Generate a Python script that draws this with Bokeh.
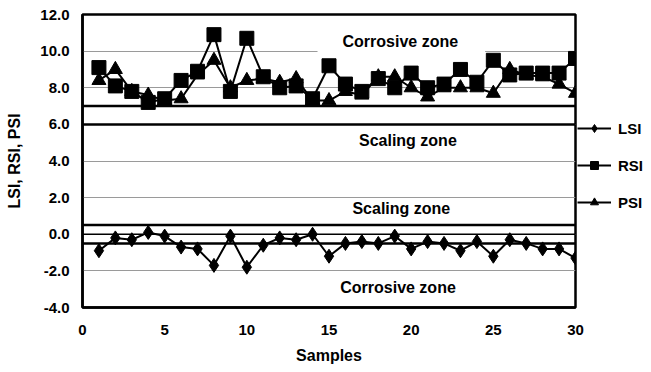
from bokeh.plotting import figure
from bokeh.models import (Range1d, FixedTicker, Span, Label,
                          Legend, LegendItem, CustomJSTickFormatter)
from bokeh.embed import file_html
from bokeh.resources import INLINE

samples = list(range(1, 31))
LSI = [-0.9, -0.2, -0.3, 0.1, -0.1, -0.7, -0.8, -1.7, -0.1, -1.8,
       -0.6, -0.2, -0.3, 0.0, -1.2, -0.5, -0.4, -0.5, -0.1, -0.8,
       -0.4, -0.5, -0.9, -0.4, -1.2, -0.3, -0.5, -0.8, -0.8, -1.3]
RSI = [9.1, 8.1, 7.8, 7.2, 7.4, 8.4, 8.9, 10.9, 7.8, 10.7,
       8.6, 8.0, 8.1, 7.4, 9.2, 8.2, 7.8, 8.5, 8.0, 8.8,
       8.0, 8.2, 9.0, 8.3, 9.5, 8.7, 8.8, 8.8, 8.8, 9.6]
PSI = [8.4, 9.0, 7.8, 7.6, 7.3, 7.4, 8.7, 9.5, 8.0, 8.4,
       8.5, 8.3, 8.5, 7.3, 7.3, 7.8, 7.6, 8.6, 8.6, 8.0,
       7.5, 8.0, 8.0, 8.0, 7.7, 9.0, 8.7, 8.6, 8.2, 7.7]
y_ticks = [-4, -2, 0, 2, 4, 6, 8, 10, 12]
x_ticks = [0, 5, 10, 15, 20, 25, 30]
zone_limits = [7.0, 6.0, 0.5, -0.5]
zone_labels = [("Corrosive zone", 19.4, 10.5), ("Scaling zone", 19.8, 5.1),
               ("Scaling zone", 19.4, 1.4), ("Corrosive zone", 19.2, -2.9)]

FONT = "Liberation Sans"

p = figure(frame_width=493, frame_height=293, output_backend="svg",
           toolbar_location=None, x_range=Range1d(0, 30), y_range=Range1d(-4, 12),
           min_border_left=82, min_border_right=68, min_border_top=14, min_border_bottom=50)
p.background_fill_color = "white"
p.border_fill_color = "white"
p.outline_line_color = "black"
p.outline_line_width = 2.5

p.xgrid.visible = False
p.ygrid.ticker = FixedTicker(ticks=y_ticks)
p.ygrid.grid_line_color = "#9a9a9a"
p.ygrid.grid_line_width = 1

for ax in (p.xaxis[0], p.yaxis[0]):
    ax.axis_line_color = "black"
    ax.axis_line_width = 2.5
    ax.major_tick_line_color = None
    ax.minor_tick_line_color = None
    ax.major_tick_out = 0
    ax.major_tick_in = 0
    ax.major_label_text_font = FONT
    ax.major_label_text_font_style = "bold"
    ax.major_label_text_font_size = "15px"
    ax.major_label_text_color = "black"
    ax.axis_label_text_font = FONT
    ax.axis_label_text_font_style = "bold"
    ax.axis_label_text_font_size = "16px"
    ax.axis_label_text_color = "black"

p.yaxis.ticker = FixedTicker(ticks=y_ticks)
p.yaxis.formatter = CustomJSTickFormatter(code="return tick.toFixed(1);")
p.yaxis.major_label_standoff = 13
p.yaxis.axis_label = "LSI, RSI, PSI"
p.yaxis.axis_label_standoff = 14
p.xaxis.ticker = FixedTicker(ticks=x_ticks)
p.xaxis.major_label_standoff = 17
p.xaxis.axis_label = "Samples"
p.xaxis.axis_label_standoff = 9

for yv in zone_limits:
    p.add_layout(Span(location=yv, dimension="width", line_color="black", line_width=2.5))
p.add_layout(Span(location=0, dimension="width", line_color="black", line_width=1.5))

lbl_top = Label(x=zone_labels[0][1], y=zone_labels[0][2], text=zone_labels[0][0],
                text_font=FONT, text_font_style="bold", text_font_size="16px",
                text_color="black", text_align="center", text_baseline="middle",
                background_fill_color="white",
                padding=dict(left=25, right=27, top=3, bottom=3))
p.add_layout(lbl_top)
for t, xv, yv in zone_labels[1:]:
    p.add_layout(Label(x=xv, y=yv, text=t, text_font=FONT, text_font_style="bold",
                       text_color="black", text_font_size="16px",
                       text_align="center", text_baseline="middle"))

l1 = p.line(samples, LSI, line_color="black", line_width=2)
m1 = p.scatter(samples, LSI, marker="diamond", size=14, color="black")
l2 = p.line(samples, RSI, line_color="black", line_width=2)
m2 = p.scatter(samples, RSI, marker="square", size=14, color="black")
l3 = p.line(samples, PSI, line_color="black", line_width=2)
m3 = p.scatter(samples, PSI, marker="triangle", size=14, color="black")

legend = Legend(items=[LegendItem(label="LSI", renderers=[l1, m1]),
                       LegendItem(label="RSI", renderers=[l2, m2]),
                       LegendItem(label="PSI", renderers=[l3, m3])],
                location=(2, 95), orientation="vertical")
legend.border_line_color = None
legend.background_fill_alpha = 0
legend.padding = 0
legend.margin = 0
legend.spacing = 17
legend.glyph_width = 34
legend.glyph_height = 20
legend.label_height = 20
legend.label_standoff = 7
legend.label_text_font = FONT
legend.label_text_font_style = "bold"
legend.label_text_font_size = "15px"
legend.label_text_color = "black"
p.add_layout(legend, "right")

open("out.html", "w").write(file_html(p, INLINE))
